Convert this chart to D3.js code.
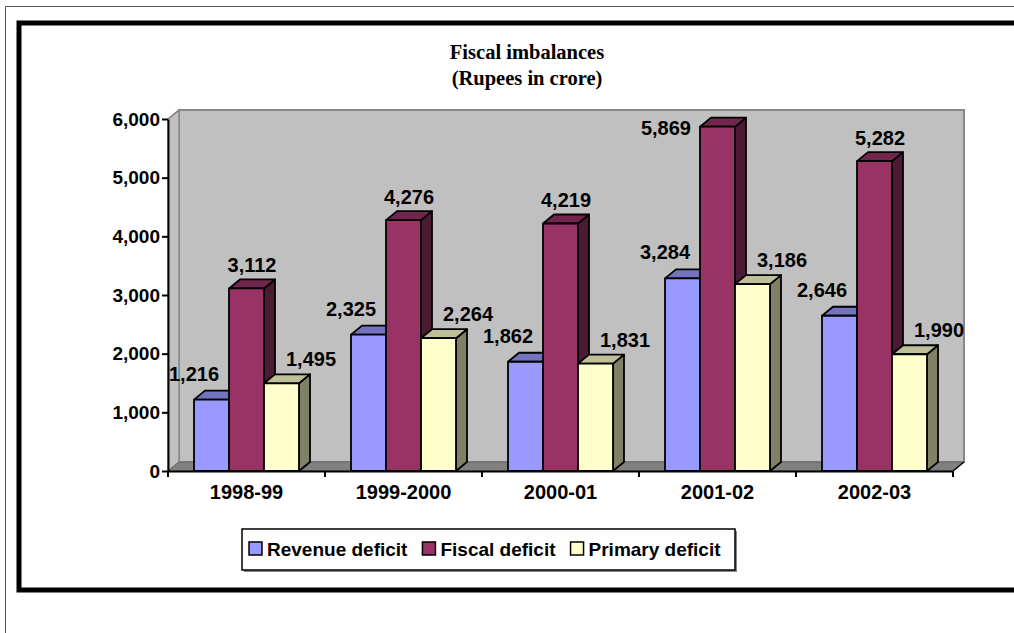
<!DOCTYPE html>
<html>
<head>
<meta charset="utf-8">
<script src="https://cdn.jsdelivr.net/npm/d3@7"></script>
<style>
  html, body { margin: 0; padding: 0; background: #fff; }
  svg { display: block; }
  .sans { font-family: "Liberation Sans", Arial, sans-serif; font-weight: bold; }
  .serif { font-family: "Liberation Serif", "Times New Roman", serif; font-weight: bold; }
</style>
</head>
<body>
<svg id="chart" width="1014" height="633"></svg>
<script>
// Fiscal imbalances, rupees in crore
const categories = ["1998-99", "1999-2000", "2000-01", "2001-02", "2002-03"];
const seriesNames = ["Revenue deficit", "Fiscal deficit", "Primary deficit"];
const revenueDeficit = [1216, 2325, 1862, 3284, 2646];
const fiscalDeficit = [3112, 4276, 4219, 5869, 5282];
const primaryDeficit = [1495, 2264, 1831, 3186, 1990];
const yTicks = [0, 1000, 2000, 3000, 4000, 5000, 6000];

const seriesValues = [revenueDeficit, fiscalDeficit, primaryDeficit];

// face colours per series: front, top, side
const palette = [
  { front: "#9999FF", top: "#7373BF", side: "#4D4D80" },
  { front: "#993366", top: "#73264D", side: "#4D1A33" },
  { front: "#FFFFCC", top: "#BFBF99", side: "#808066" }
];

const svg = d3.select("#chart");

// outer frames
svg.append("path").attr("d", "M5.5,633 V6.5 H1014")
  .attr("fill", "none").attr("stroke", "#555").attr("stroke-width", 1);
svg.append("rect").attr("x", 19).attr("y", 23).attr("width", 1100).attr("height", 567)
  .attr("fill", "none").attr("stroke", "#000").attr("stroke-width", 5);

// title
svg.append("text").attr("class", "serif").attr("x", 527).attr("y", 59)
  .attr("text-anchor", "middle").attr("font-size", 20.5).text("Fiscal imbalances");
svg.append("text").attr("class", "serif").attr("x", 527).attr("y", 85)
  .attr("text-anchor", "middle").attr("font-size", 20.5).text("(Rupees in crore)");

// scales
const x = d3.scaleBand().domain(categories).range([168, 953]);
const y = d3.scaleLinear().domain([0, 6000]).range([471, 119]);
const groupW = 105;
const xs = d3.scaleBand().domain(d3.range(seriesNames.length)).range([0, groupW]);
const BW = xs.bandwidth();
const DX = 11, DY = -9; // depth offset of the 3D projection

const x0 = x.range()[0], x1 = x.range()[1];
const yTop = y(6000), yBase = y(0);

// back wall
svg.append("path")
  .attr("d", `M${x0 + DX},${yBase + DY} V${yTop + DY} H${x1 + DX} V${yBase + DY} Z`)
  .attr("fill", "#C0C0C0").attr("stroke", "#888").attr("stroke-width", 2);
// side wall
svg.append("path")
  .attr("d", `M${x0},${yBase} L${x0},${yTop} L${x0 + DX},${yTop + DY} L${x0 + DX},${yBase + DY} Z`)
  .attr("fill", "#C0C0C0").attr("stroke", "#888").attr("stroke-width", 1.5);
// floor
svg.append("path")
  .attr("d", `M${x0},${yBase} L${x0 + DX},${yBase + DY} L${x1 + DX},${yBase + DY} L${x1},${yBase} Z`)
  .attr("fill", "#808080").attr("stroke", "#666").attr("stroke-width", 1);

// bars
const bars = [];
categories.forEach((c, ci) => {
  seriesValues.forEach((vals, si) => {
    const bx = x(c) + (x.bandwidth() - groupW) / 2 + xs(si);
    bars.push({ c, ci, si, v: vals[ci], bx });
  });
});

const barG = svg.append("g");
bars.forEach(b => {
  const g = barG.append("g");
  const yt = y(b.v), col = palette[b.si];
  const st = { stroke: "#000", "stroke-width": 1.8, "stroke-linejoin": "round" };
  const side = g.append("path")
    .attr("d", `M${b.bx + BW},${yBase} L${b.bx + BW},${yt} L${b.bx + BW + DX},${yt + DY} L${b.bx + BW + DX},${yBase + DY} Z`)
    .attr("fill", col.side);
  const top = g.append("path")
    .attr("d", `M${b.bx},${yt} L${b.bx + DX},${yt + DY} L${b.bx + BW + DX},${yt + DY} L${b.bx + BW},${yt} Z`)
    .attr("fill", col.top);
  const front = g.append("rect")
    .attr("x", b.bx).attr("y", yt).attr("width", BW).attr("height", yBase - yt)
    .attr("fill", col.front);
  [side, top, front].forEach(s => Object.entries(st).forEach(([k, v]) => s.attr(k, v)));
});

// y axis
const yAxis = svg.append("g").attr("transform", `translate(${x0},0)`)
  .call(d3.axisLeft(y).tickValues(yTicks).tickFormat(d3.format(",")).tickSize(6).tickSizeOuter(0).tickPadding(2));
yAxis.select(".domain").attr("stroke", "#000").attr("stroke-width", 2);
yAxis.selectAll(".tick line").attr("stroke", "#000").attr("stroke-width", 2);
yAxis.selectAll(".tick text").attr("class", "sans").attr("font-size", 19).attr("fill", "#000");
svg.append("line").attr("x1", x0).attr("y1", yTop).attr("x2", x0 + DX).attr("y2", yTop + DY)
  .attr("stroke", "#888").attr("stroke-width", 1.5);

// x axis
const xAxis = svg.append("g").attr("transform", `translate(0,${yBase})`)
  .call(d3.axisBottom(x).tickSize(0).tickPadding(14));
xAxis.select(".domain").attr("stroke", "#000").attr("stroke-width", 2);
xAxis.selectAll(".tick text").attr("class", "sans").attr("font-size", 20).attr("fill", "#000");
const bounds = categories.map(c => x(c)).concat([x1]);
svg.append("g").selectAll("line").data(bounds).join("line")
  .attr("x1", d => d).attr("x2", d => d).attr("y1", yBase).attr("y2", yBase + 6)
  .attr("stroke", "#000").attr("stroke-width", 2);
svg.append("line").attr("x1", x1).attr("y1", yBase).attr("x2", x1 + DX).attr("y2", yBase + DY)
  .attr("stroke", "#000").attr("stroke-width", 1.5);

// value labels
const labelShift = [-23, 0, 24];
const labelLift = [10, 7, 8];
const fmt = d3.format(",");
svg.append("g").selectAll("text").data(bars).join("text")
  .attr("class", "sans").attr("font-size", 20).attr("fill", "#000")
  .each(function (b) {
    const t = d3.select(this);
    const base = y(b.v) + DY - labelLift[b.si];
    if (base < yTop) {
      // no room above the wall: set beside the bar
      t.attr("text-anchor", "end").attr("x", b.bx - 9).attr("y", y(b.v) + 8);
    } else {
      t.attr("text-anchor", "middle").attr("x", b.bx + BW / 2 + DX / 2 + labelShift[b.si]).attr("y", base);
    }
  })
  .text(b => fmt(b.v));

// legend
const lg = svg.append("g");
lg.append("rect").attr("x", 244).attr("y", 531).attr("width", 493).attr("height", 41).attr("fill", "#888");
lg.append("rect").attr("x", 242).attr("y", 529).attr("width", 493).attr("height", 41)
  .attr("fill", "#fff").attr("stroke", "#000").attr("stroke-width", 1.5);
let lx = 249;
seriesNames.forEach((n, i) => {
  lg.append("rect").attr("x", lx).attr("y", 542).attr("width", 13).attr("height", 13)
    .attr("fill", palette[i].front).attr("stroke", "#000").attr("stroke-width", 1.5);
  const t = lg.append("text").attr("class", "sans").attr("font-size", 19)
    .attr("x", lx + 18).attr("y", 556).text(n);
  lx = lx + 18 + t.node().getComputedTextLength() + 15;
});
</script>
</body>
</html>
